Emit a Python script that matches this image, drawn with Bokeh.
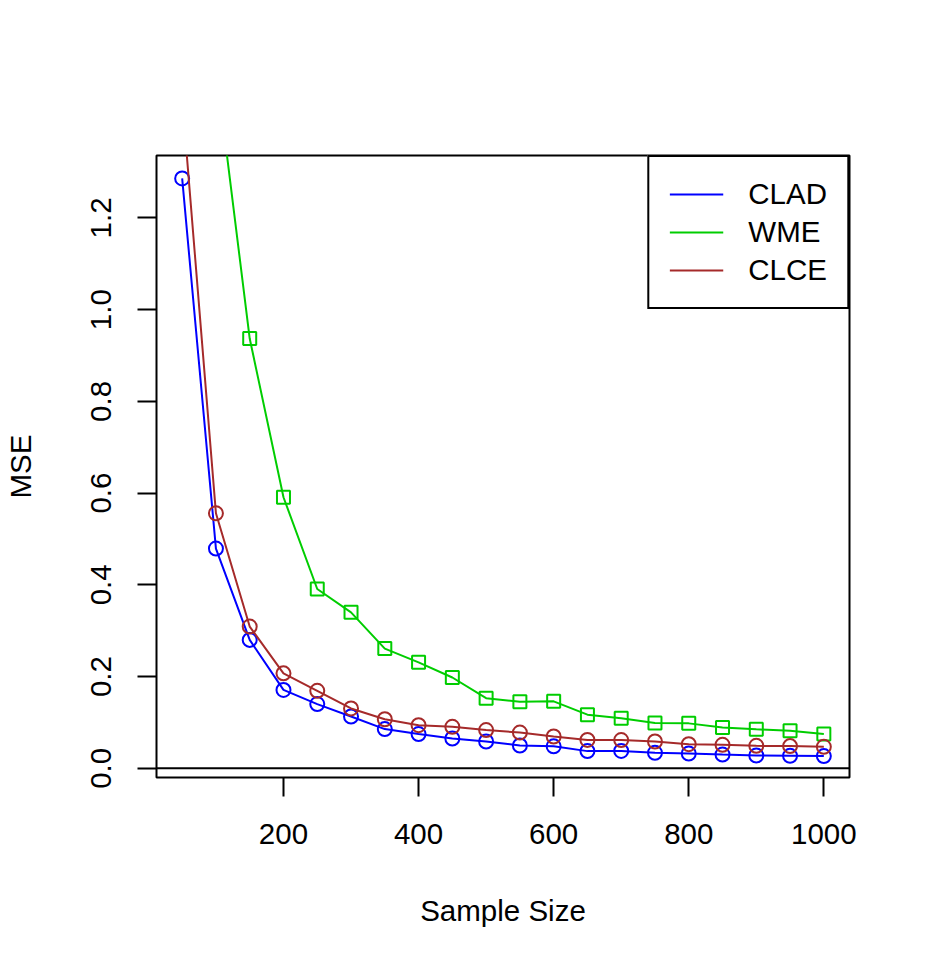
from bokeh.plotting import figure
from bokeh.models import (FixedTicker, PrintfTickFormatter, Span, Legend, LegendItem,
                          Range1d)
from bokeh.embed import file_html
from bokeh.resources import INLINE

# ---- data ----
sample_size = [50, 100, 150, 200, 250, 300, 350, 400, 450, 500,
               550, 600, 650, 700, 750, 800, 850, 900, 950, 1000]
clad = [1.286, 0.479, 0.280, 0.171, 0.140, 0.113, 0.0855, 0.0746, 0.065, 0.0585,
        0.0498, 0.048, 0.0375, 0.038, 0.0338, 0.0323, 0.030, 0.028, 0.0273, 0.0266]
wme = [2.40, 1.53, 0.937, 0.591, 0.391, 0.340, 0.261, 0.231, 0.198, 0.153,
       0.145, 0.146, 0.117, 0.109, 0.099, 0.098, 0.089, 0.085, 0.082, 0.075]
clce = [1.461, 0.556, 0.309, 0.207, 0.169, 0.1305, 0.107, 0.094, 0.0905, 0.0833,
        0.078, 0.0694, 0.062, 0.0615, 0.0585, 0.0527, 0.0512, 0.049, 0.0484, 0.0469]
series_names = ["CLAD", "WME", "CLCE"]
x_ticks = [200, 400, 600, 800, 1000]
y_ticks = [0.0, 0.2, 0.4, 0.6, 0.8, 1.0, 1.2]

FONT = "Liberation Sans"
FS = "29.5px"

p = figure(width=911, height=956, output_backend="svg", toolbar_location=None,
           x_range=Range1d(12, 1038), y_range=Range1d(-0.020, 1.336),
           min_border_left=156, min_border_right=62,
           min_border_top=155, min_border_bottom=179)
p.xgrid.visible = False
p.ygrid.visible = False
p.outline_line_color = "black"
p.outline_line_width = 2
p.background_fill_color = "white"
p.border_fill_color = "white"

for ax in (p.xaxis[0], p.yaxis[0]):
    ax.axis_line_color = None
    ax.major_tick_out = 19
    ax.major_tick_in = 0
    ax.major_tick_line_width = 2
    ax.major_tick_line_color = "black"
    ax.minor_tick_line_color = None
    ax.major_label_text_font = FONT
    ax.major_label_text_font_size = FS
    ax.major_label_text_color = "black"
    ax.axis_label_text_font = FONT
    ax.axis_label_text_font_size = FS
    ax.axis_label_text_font_style = "normal"
    ax.axis_label_text_color = "black"

p.xaxis[0].ticker = FixedTicker(ticks=x_ticks)
p.yaxis[0].ticker = FixedTicker(ticks=y_ticks)
p.yaxis[0].formatter = PrintfTickFormatter(format="%.1f")
p.yaxis[0].major_label_orientation = "vertical"
p.xaxis[0].major_label_standoff = 27
p.yaxis[0].major_label_standoff = 26
p.xaxis[0].axis_label = "Sample Size"
p.yaxis[0].axis_label = "MSE"
p.xaxis[0].axis_label_standoff = 47
p.yaxis[0].axis_label_standoff = 52

p.add_layout(Span(location=0, dimension="width", line_color="black", line_width=2))

colors = ["#0000FF", "#00CD00", "#A52A2A"]
markers = ["circle", "square", "circle"]
sizes = [14, 13, 14]
items = []
for name, ys, col, mk, sz in zip(series_names, [clad, wme, clce], colors, markers, sizes):
    r = p.line(sample_size, ys, line_color=col, line_width=2)
    p.scatter(sample_size, ys, marker=mk, size=sz, fill_color=None,
              line_color=col, line_width=2)
    items.append(LegendItem(label=name, renderers=[r]))

legend = Legend(items=items, location="top_right", margin=0, padding=20,
                spacing=4, glyph_width=54, glyph_height=34, label_height=34,
                label_standoff=25, border_line_color="black", border_line_width=2,
                border_line_alpha=1,
                background_fill_color="white", background_fill_alpha=1,
                label_text_font=FONT, label_text_font_size=FS,
                label_text_color="black")
p.add_layout(legend)

open("out.html", "w").write(file_html(p, INLINE))
